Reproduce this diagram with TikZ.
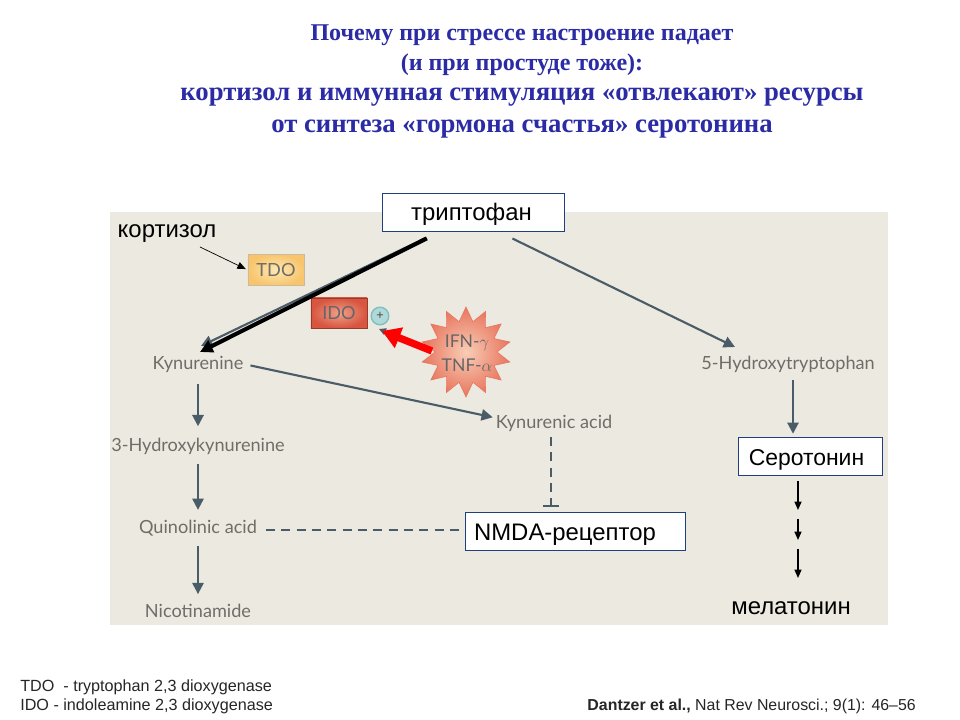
\documentclass[tikz,border=0pt]{standalone}
\usepackage{fontspec}
\setmainfont{Liberation Sans}
\newfontfamily\titlefont{Liberation Serif}
\newfontfamily\paperfont{Lato}
\usetikzlibrary{arrows.meta,shapes.geometric}
\definecolor{panelbg}{HTML}{ECE9E0}
\definecolor{titleblue}{HTML}{2B2BA6}
\definecolor{boxblue}{HTML}{1F3F7F}
\definecolor{pathgrey}{HTML}{4A5C68}
\definecolor{papertext}{HTML}{6F6D68}
\definecolor{tdoin}{HTML}{FFE8B4}
\definecolor{tdoout}{HTML}{F8C56C}
\definecolor{idoin}{HTML}{EFA08A}
\definecolor{idoout}{HTML}{D8553F}
\definecolor{starin}{HTML}{F9CDB6}
\definecolor{starout}{HTML}{E8765F}
\tikzset{
  whitebox/.style={draw=boxblue,fill=white,line width=0.6pt,minimum height=0.95cm,inner sep=0pt,text height=0.45cm,text depth=0cm,font=\fontsize{17}{17}\selectfont},
  blacklabel/.style={inner sep=0pt,text height=0.45cm,text depth=0cm,font=\fontsize{17}{17}\selectfont},
  papernode/.style={inner sep=0pt,text=papertext,font=\paperfont\fontsize{12.9}{13}\selectfont},
  patharrow/.style={draw=pathgrey,line width=1.5pt,-{Triangle[length=8pt,width=8pt]}},
  blackarrow/.style={draw=black,line width=1pt,-{Triangle[length=6pt,width=5pt]}},
  dashline/.style={draw=pathgrey,line width=1.7pt,dash pattern=on 6.5pt off 4.4pt},
  titleline/.style={inner sep=0pt,text=titleblue,font=\titlefont\bfseries\fontsize{#1}{#1}\selectfont},
  footline/.style={inner sep=0pt,text=black!85,font=\fontsize{11.5}{12}\selectfont}
}
\begin{document}
\begin{tikzpicture}[x=0.025cm,y=-0.025cm]
  \useasboundingbox (0,0) rectangle (960,720);
  \fill[white] (0,0) rectangle (960,720);
  \fill[panelbg] (110,212) rectangle (888,625);

  % title
  \node[titleline=17.1] (title1) at (522,35) {Почему при стрессе настроение падает};
  \node[titleline=17.1] (title2) at (522,65) {(и при простуде тоже):};
  \node[titleline=19] (title3) at (522,97) {кортизол и иммунная стимуляция «отвлекают» ресурсы};
  \node[titleline=19] (title4) at (522,129) {от синтеза «гормона счастья» серотонина};

  % boxes
  \node[whitebox,minimum width=4.55cm] (trp) at (473,212) {триптофан\kern0.075cm};
  \node[whitebox,minimum width=3.6cm,font=\fontsize{16.3}{17}\selectfont] (sero) at (810,456) {Серотонин\kern0.175cm};
  \node[whitebox,minimum width=5.5cm] (nmda) at (575,531) {NMDA-рецептор\kern0.5cm};

  % paper labels
  \node[papernode] (kyn) at (198,364) {Kynurenine};
  \node[papernode] (hk) at (198,446) {3-Hydroxykynurenine};
  \node[papernode] (qa) at (198,528) {Quinolinic acid};
  \node[papernode] (nic) at (198,611) {Nicotinamide};
  \node[papernode] (kyna) at (554,423) {Kynurenic acid};
  \node[papernode] (htp) at (788,364) {5-Hydroxytryptophan};

  % enzymes
  \node[draw=tdoout!60!black!50,inner color=tdoin,outer color=tdoout,minimum width=1.4cm,minimum height=0.78cm,inner sep=0pt,text=papertext,font=\paperfont\fontsize{12.9}{13}\selectfont] (tdo) at (276,270) {TDO};
  \node[draw=idoout!70!black,inner color=idoin,outer color=idoout,minimum width=1.4cm,minimum height=0.75cm,inner sep=0pt,text=black!60,font=\paperfont\fontsize{12.9}{13}\selectfont] (ido) at (339,313) {IDO};
  \node[circle,draw=teal!50,line width=1pt,fill=teal!30,minimum size=0.44cm,inner sep=0pt,text=black!70,font=\fontsize{9}{9}\selectfont] (plus) at (380,316) {+};
  \node[star,star points=14,star point ratio=1.45,minimum size=2.25cm,inner sep=0pt,draw=starout,inner color=starin,outer color=starout] (cyto) at (466,352) {};
  \node[inner sep=0pt,align=center,text=black!60,font=\paperfont\fontsize{12.5}{17}\selectfont] (cytotext) at (467,353) {IFN-$\gamma$\\TNF-$\alpha$};

  % black labels
  \node[blacklabel] (cort) at (167,229) {кортизол};
  \node[blacklabel] (mela) at (791,605) {мелатонин};
  \coordinate (cortout) at (200,247);
  \coordinate (kynin) at (200,352);
  \coordinate (kyngrey) at (201,346);
  \coordinate (htpin) at (735,347);
  \coordinate (htpout) at (793,380);
  \coordinate (qaout) at (266,530);
  \coordinate (kynaout) at (551,437);
  \coordinate (idotip) at (382,331);
  \coordinate (idogrey) at (379,329);
  \coordinate (m1) at (798,510);
  \coordinate (m2) at (798,519);
  \coordinate (m3) at (798,540);
  \coordinate (m4) at (798,549);
  \coordinate (m5) at (798,578);

  % pathway
  \draw[patharrow,shorten <=11pt] (trp.-150) -- (kyngrey);
  \draw[draw=black,line width=2.9pt,-{Triangle[length=9pt,width=9pt]},shorten <=11pt] (trp.-149) -- (kynin);
  \draw[patharrow,shorten <=11.5pt] (trp.-38) -- (htpin);
  \draw[patharrow,shorten <=5pt,shorten >=2pt] (kyn.east) -- (kyna.175);
  \draw[patharrow,shorten <=8pt,shorten >=8pt] (kyn) -- (hk);
  \draw[patharrow,shorten <=7pt,shorten >=7pt] (hk) -- (qa);
  \draw[patharrow,shorten <=7pt,shorten >=7pt] (qa) -- (nic);
  \draw[patharrow,shorten >=2pt] (htpout) -- (sero.north -| htpout);
  \draw[dashline] (qaout) -- (nmda.west |- qaout);
  \draw[dashline,-{Bar[width=11pt]},shorten >=3pt] (kynaout) -- (nmda.north -| kynaout);

  % cortisol and melatonin
  \draw[black,line width=0.5pt,-{Triangle[length=6pt,width=5pt]},shorten >=1.5pt] (cortout) -- (tdo.west);
  \draw[blackarrow,shorten <=4pt] (sero.south -| m1) -- (m1);
  \draw[blackarrow] (m2) -- (m3);
  \draw[blackarrow] (m4) -- (m5);

  % activation
  \draw[pathgrey,line width=1pt,-{Triangle[length=5pt,width=5pt]},shorten <=8pt] (cyto.west) -- (idogrey);
  \draw[red,line width=5.2pt,-{Triangle[length=13pt,width=15pt]},shorten <=2pt] (cyto.west) -- (idotip);

  % footer
  \node[footline,anchor=west] (foot1) at (20,687.5) {TDO\ \ - tryptophan 2,3 dioxygenase};
  \node[footline,anchor=west] (foot2) at (20,706.5) {IDO - indoleamine 2,3 dioxygenase};
  \node[footline,anchor=east,font=\fontsize{11.3}{12}\selectfont] (cite) at (916,706.5) {\textbf{Dantzer et al.,} Nat Rev Neurosci.; 9(1): 46–56};
\end{tikzpicture}
\end{document}
